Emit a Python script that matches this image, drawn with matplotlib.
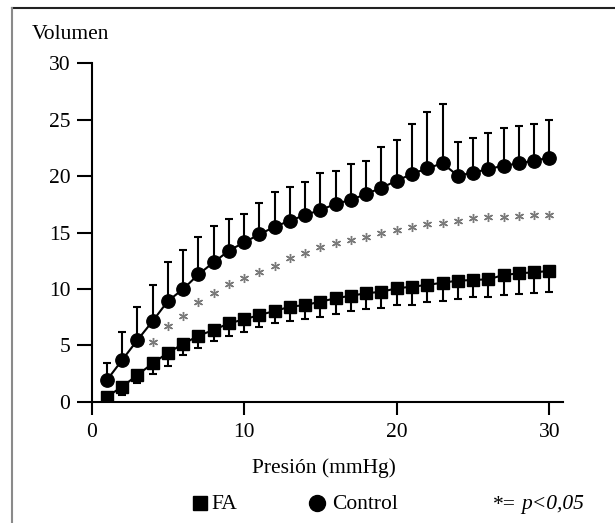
import numpy as np
import matplotlib
matplotlib.use("Agg")
import matplotlib.pyplot as plt
from matplotlib.lines import Line2D

plt.rcParams['font.family'] = ['Liberation Serif', 'DejaVu Serif']
plt.rcParams['font.size'] = 15.5

# presion (mmHg)
presion = [1, 2, 3, 4, 5, 6, 7, 8, 9, 10, 11, 12, 13, 14, 15,
           16, 17, 18, 19, 20, 21, 22, 23, 24, 25, 26, 27, 28, 29, 30]

control = [1.92, 3.70, 5.47, 7.15, 8.93, 9.99, 11.29, 12.36, 13.39, 14.13,
           14.84, 15.51, 16.05, 16.55, 17.00, 17.53, 17.90, 18.41, 18.97, 19.59,
           20.19, 20.69, 21.13, 20.04, 20.30, 20.63, 20.92, 21.13, 21.37, 21.63]
control_sd = [1.5, 2.45, 2.95, 3.2, 3.45, 3.45, 3.3, 3.2, 2.85, 2.5,
              2.75, 3.05, 3.0, 2.95, 3.25, 2.95, 3.2, 2.95, 3.6, 3.6,
              4.45, 4.95, 5.25, 2.95, 3.1, 3.15, 3.3, 3.3, 3.25, 3.3]

fa = [0.44, 1.33, 2.37, 3.40, 4.34, 5.12, 5.85, 6.36, 6.95, 7.30,
      7.69, 8.04, 8.42, 8.57, 8.87, 9.17, 9.40, 9.61, 9.75, 10.05,
      10.20, 10.35, 10.55, 10.73, 10.79, 10.85, 11.23, 11.38, 11.47, 11.59]
fa_sd = [0.2, 0.75, 0.7, 0.9, 1.15, 1.0, 1.1, 0.95, 1.15, 1.1,
         1.05, 1.1, 1.25, 1.25, 1.35, 1.4, 1.4, 1.4, 1.4, 1.5,
         1.6, 1.55, 1.65, 1.65, 1.55, 1.55, 1.8, 1.85, 1.85, 1.85]

# asteriscos de significacion (p<0,05)
sig_x = [4, 5, 6, 7, 8, 9, 10, 11, 12, 13, 14, 15, 16, 17, 18,
         19, 20, 21, 22, 23, 24, 25, 26, 27, 28, 29, 30]
sig_y = [5.32, 6.71, 7.62, 8.87, 9.61, 10.43, 10.99, 11.47, 12.06, 12.71,
         13.21, 13.69, 14.04, 14.34, 14.63, 14.98, 15.22, 15.51, 15.73, 15.82,
         16.02, 16.26, 16.35, 16.40, 16.46, 16.55, 16.55]

xticks = [0, 10, 20, 30]
yticks = [0, 5, 10, 15, 20, 25, 30]

W, H = 615, 523
fig = plt.figure(figsize=(W / 100, H / 100), dpi=100)
ax = fig.add_axes([91.7 / W, 121.3 / H, (563 - 91.7) / W, (401.7 - 63.3) / H])

zeros = np.zeros(len(presion))
ax.errorbar(presion, control, yerr=[zeros, control_sd], fmt='none', ecolor='black',
            elinewidth=1.5, capsize=2.7, capthick=1.5, zorder=2)
ax.errorbar(presion, fa, yerr=[fa_sd, zeros], fmt='none', ecolor='black',
            elinewidth=1.5, capsize=2.7, capthick=1.5, zorder=2)
ax.plot(presion, control, '-o', color='black', lw=1.5, ms=9.6, zorder=3)
ax.plot(presion, fa, '-s', color='black', lw=1.5, ms=8, zorder=3)
ax.plot(sig_x, sig_y, ls='none', marker=(6, 2, 0), ms=6.5, mew=1.0,
        color='#7a7a7a', zorder=3)

ax.set_xlim(0, 30.9)
ax.set_ylim(0, 30)
ax.set_xticks(xticks)
ax.set_yticks(yticks)
for s in ['top', 'right']:
    ax.spines[s].set_visible(False)
for s in ['left', 'bottom']:
    ax.spines[s].set_linewidth(1.5)
ax.tick_params(axis='y', direction='out', length=11, width=1.5, pad=4.3)
ax.tick_params(axis='x', direction='out', length=9, width=1.5, pad=6.5)

# textos
fig.text(32 / W, 1 - 39 / H, 'Volumen', ha='left', va='baseline')
fig.text(324 / W, 1 - 473.3 / H, 'Presión (mmHg)', ha='center', va='baseline')

leg_y = 1 - 503 / H
base = 1 - 509.3 / H
fig.add_artist(Line2D([200 / W], [leg_y], marker='s', ms=10, color='black', ls='none'))
fig.text(211 / W, base, 'FA', ha='left', va='baseline')
fig.add_artist(Line2D([317 / W], [leg_y], marker='o', ms=11.5, color='black', ls='none'))
fig.text(332 / W, base, 'Control', ha='left', va='baseline')

tp = fig.text(584 / W, base, 'p<0,05', style='italic', ha='right', va='baseline')
fig.canvas.draw()
bb = tp.get_window_extent()
fig.text((bb.x0 - 5) / W, base, '*=', ha='right', va='baseline')

# marco de la figura
fig.add_artist(Line2D([12 / W, 1], [1 - 8 / H, 1 - 8 / H], color='#222222', lw=1.5))
fig.add_artist(Line2D([12 / W, 12 / W], [0, 1 - 8 / H], color='#8a8a8a', lw=1.5))

fig.savefig('out.png', dpi=100)
